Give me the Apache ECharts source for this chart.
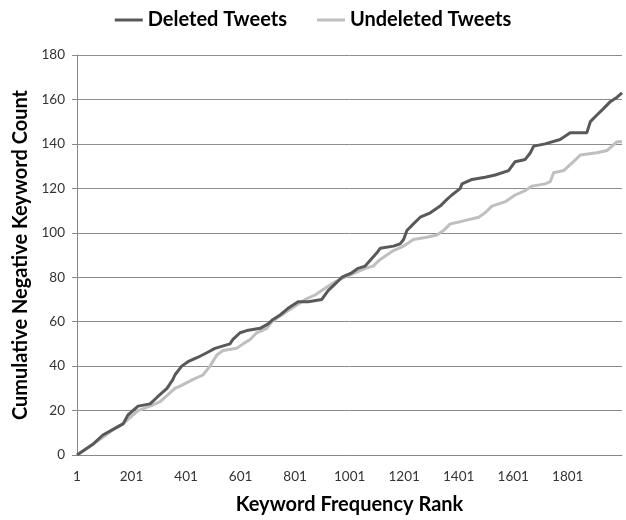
<!DOCTYPE html>
<html>
<head>
<meta charset="utf-8">
<script src="https://cdn.jsdelivr.net/npm/echarts@6/dist/echarts.min.js"></script>
<style>html,body{margin:0;padding:0;background:#fff}#c{width:626px;height:520px}</style>
</head>
<body>
<div id="c"></div>
<script>
// Keyword frequency rank where the cumulative count changes, and the count reached there
const deletedRank  = [1,61,96,140,170,188,225,269,295,331,353,360,385,408,445,477,507,562,573,599,624,673,702,720,746,775,812,849,899,922,948,973,1009,1032,1058,1101,1113,1162,1186,1199,1211,1235,1260,1297,1333,1358,1376,1407,1413,1450,1498,1535,1584,1608,1645,1664,1676,1718,1773,1810,1871,1884,1908,1933,1957,1982,2000];
const deletedCount = [0,5,9,12,14,18,22,23,26,30,34,36,40,42,44,46,48,50,52,55,56,57,59,61,63,66,69,69,70,74,77,80,82,84,85,91,93,94,95,97,101,104,107,109,112,115,117,120,122,124,125,126,128,132,133,136,139,140,142,145,145,150,153,156,159,161,163];
const undeletedRank  = [1,60,96,140,170,188,225,269,306,342,360,379,427,463,489,514,537,587,610,636,660,679,697,716,739,789,838,874,911,948,984,1021,1058,1087,1113,1162,1199,1235,1284,1321,1345,1370,1407,1474,1498,1523,1572,1608,1645,1670,1718,1737,1749,1786,1822,1847,1908,1945,1963,1982,2000];
const undeletedCount = [0,5,8,12,14,16,20,22,24,28,30,31,34,36,40,45,47,48,50,52,55,56,57,60,62,66,70,72,75,78,80,82,84,85,88,92,94,97,98,99,101,104,105,107,109,112,114,117,119,121,122,123,127,128,132,135,136,137,139,141,141];
const rankCount = 2000;
const seriesNames = ['Deleted Tweets', 'Undeleted Tweets'];
const yTicks = {min: 0, max: 180, interval: 20};

const categories = [];
for (let i = 1; i <= rankCount; i++) categories.push(String(i));
const toPairs = (r, c) => r.map((x, i) => [x - 1, c[i]]);

const font = 'Lato, "Open Sans", sans-serif';
const chart = echarts.init(document.getElementById('c'), null, {renderer: 'canvas'});
chart.setOption({
  animation: false,
  backgroundColor: '#ffffff',
  legend: {
    top: 5, left: 'center',
    itemWidth: 28, itemHeight: 3, itemGap: 30,
    icon: 'rect',
    textStyle: {fontFamily: font, fontWeight: 'bold', fontSize: 20, color: '#000'},
    data: seriesNames
  },
  grid: {left: 77, right: 4, top: 55, bottom: 58, containLabel: false},
  xAxis: {
    type: 'category', data: categories, boundaryGap: false,
    name: 'Keyword Frequency Rank', nameLocation: 'middle', nameGap: 40,
    nameTextStyle: {fontFamily: font, fontWeight: 'bold', fontSize: 20, color: '#000'},
    axisLine: {show: true, lineStyle: {color: '#888', width: 1}},
    axisTick: {show: false},
    axisLabel: {interval: 199, margin: 15, fontFamily: font, fontSize: 13.5, color: '#333'},
    splitLine: {show: false}
  },
  yAxis: {
    type: 'value', min: yTicks.min, max: yTicks.max, interval: yTicks.interval,
    name: 'Cumulative Negative Keyword Count', nameLocation: 'middle', nameGap: 45,
    nameTextStyle: {fontFamily: font, fontWeight: 'bold', fontSize: 20, color: '#000'},
    axisLine: {show: true, lineStyle: {color: '#888', width: 1}},
    axisTick: {show: true, inside: false, length: 5, lineStyle: {color: '#888'}},
    axisLabel: {margin: 12, fontFamily: font, fontSize: 13.5, color: '#333'},
    splitLine: {show: true, lineStyle: {color: '#8c8c8c', width: 1}}
  },
  series: [
    {name: seriesNames[0], type: 'line', showSymbol: false, symbol: 'none',
     data: toPairs(deletedRank, deletedCount), lineStyle: {color: '#595959', width: 3}, itemStyle: {color: '#595959'}, z: 3},
    {name: seriesNames[1], type: 'line', showSymbol: false, symbol: 'none',
     data: toPairs(undeletedRank, undeletedCount), lineStyle: {color: '#bfbfbf', width: 3}, itemStyle: {color: '#bfbfbf'}, z: 2}
  ]
});
</script>
</body>
</html>
